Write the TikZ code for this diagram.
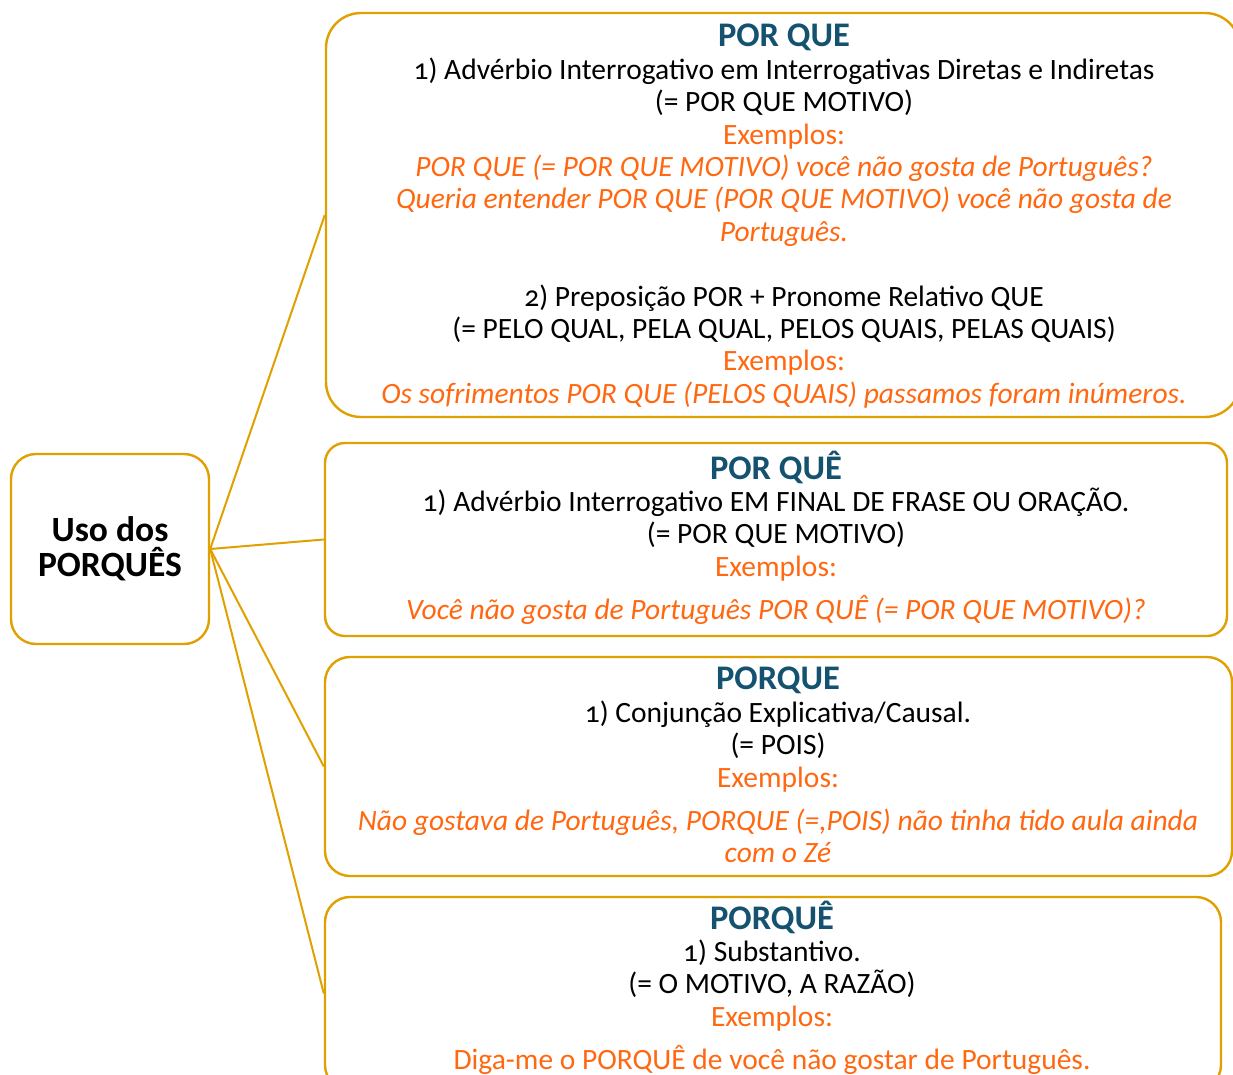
\documentclass[tikz,border=0pt]{standalone}
\usepackage{fontspec}
\setmainfont{Carlito}[Numbers=OldStyle]
\usetikzlibrary{positioning}
\definecolor{gold}{RGB}{224,160,0}
\definecolor{titleblue}{RGB}{20,82,112}
\definecolor{exorange}{RGB}{255,104,16}
\newcommand{\ttl}[1]{{\fontsize{34.5}{36}\selectfont\bfseries\color{titleblue}#1}}
\newcommand{\ex}[1]{{\color{exorange}#1}}
\newcommand{\exit}[1]{{\color{exorange}\itshape #1}}
\tikzset{
  box/.style={draw=gold, line width=2.4pt, rounded corners=#1, inner sep=0pt},
  box/.default=25pt,
  txt/.style={anchor=north, align=center, inner sep=0pt,
    font=\fontsize{29.5}{32.4}\selectfont},
  link/.style={draw=gold, line width=2pt}
}
\begin{document}
\begin{tikzpicture}[x=1pt, y=-1pt]
  \useasboundingbox (0,0) rectangle (1233,1075);
  \clip (0,0) rectangle (1233,1075);
  % the four boxes and the root
  \node(uso) [box, minimum width=198pt, minimum height=190pt, align=center,
    font=\fontsize{35.5}{35}\selectfont\bfseries] at (110,549) {Uso dos\\PORQUÊS};
  \node(porque1) [box=35pt, minimum width=914pt, minimum height=404pt] at (783,215) {};
  \node(porque2) [box=20pt, minimum width=902pt, minimum height=193pt] at (776,539.5) {};
  \node(porque3) [box, minimum width=907pt, minimum height=219pt] at (778.5,766.5) {};
  \node(porque4) [box, minimum width=896pt, minimum height=193pt] at (773,993.5) {};
  % texts
  \node(t1) [txt] at (784,24) {\ttl{POR QUE}\\
    1) Advérbio Interrogativo em Interrogativas Diretas e Indiretas\\
    (= POR QUE MOTIVO)\\
    \ex{Exemplos:}\\
    \exit{POR QUE (= POR QUE MOTIVO) você não gosta de Português?}\\
    \exit{Queria entender POR QUE (POR QUE MOTIVO) você não gosta de}\\
    \exit{Português.}\\[32.4pt]
    2) Preposição POR + Pronome Relativo QUE\\
    (= PELO QUAL, PELA QUAL, PELOS QUAIS, PELAS QUAIS)\\
    \ex{Exemplos:}\\
    \exit{Os sofrimentos POR QUE (PELOS QUAIS) passamos foram inúmeros.}};
  \node(t2) [txt] at (776,450.5) {\ttl{POR QUÊ}\\
    1) Advérbio Interrogativo EM FINAL DE FRASE OU ORAÇÃO.\\
    (= POR QUE MOTIVO)\\
    \ex{Exemplos:}\\[11pt]
    \exit{Você não gosta de Português POR QUÊ (= POR QUE MOTIVO)?}};
  \node(t3) [txt] at (778,667) {\ttl{PORQUE}\\
    1) Conjunção Explicativa/Causal.\\
    (= POIS)\\
    \ex{Exemplos:}\\[11pt]
    \exit{Não gostava de Português, PORQUE (=,POIS) não tinha tido aula ainda}\\
    \exit{com o Zé}};
  \node(t4) [txt] at (772,900.5) {\ttl{PORQUÊ}\\
    1) Substantivo.\\
    (= O MOTIVO, A RAZÃO)\\
    \ex{Exemplos:}\\[11pt]
    \ex{Diga-me o PORQUÊ de você não gostar de Português.}};
  % connectors
  \draw[link](uso.east) -- (porque1.west);
  \draw[link](uso.east) -- (porque2.west);
  \draw[link](uso.east) -- (porque3.west);
  \draw[link](uso.east) -- (porque4.west);
\end{tikzpicture}
\end{document}
